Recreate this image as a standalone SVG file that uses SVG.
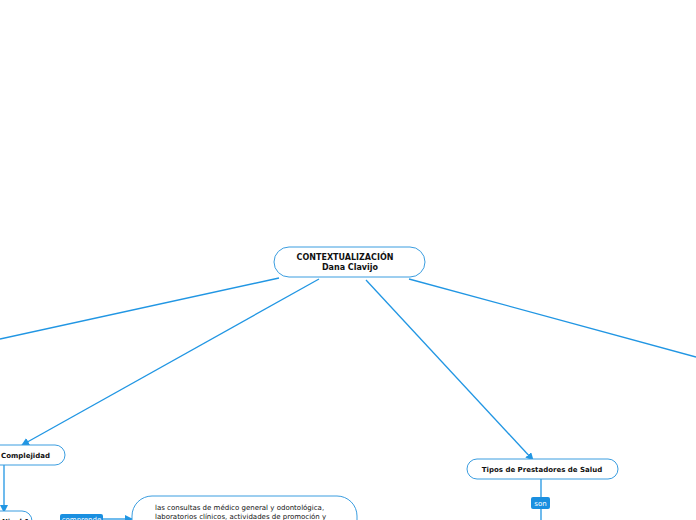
<svg xmlns="http://www.w3.org/2000/svg" width="696" height="520" viewBox="0 0 696 520">
<defs>
<style>
.node{fill:#fff;stroke:#3a9de0;stroke-width:1}
.line{stroke:#2196e3;stroke-width:1.3;fill:none}
.t{font-family:"DejaVu Sans",Verdana,sans-serif;font-size:7px;fill:#111}
.b{font-weight:bold}
.lab{fill:#1a8fe0}
.lt{font-family:"DejaVu Sans",Verdana,sans-serif;font-size:7px;fill:#fff}
</style>
<marker id="ah" markerWidth="8" markerHeight="8" refX="7" refY="4" orient="auto" markerUnits="userSpaceOnUse">
<path d="M0,0 L8,4 L0,8 Z" fill="#2196e3"/>
</marker>
</defs>
<rect width="696" height="520" fill="#fff"/>
<g id="connectors">
<line class="line" x1="279" y1="278" x2="0" y2="339"/>
<line class="line" x1="319" y1="279" x2="22" y2="445" marker-end="url(#ah)"/>
<line class="line" x1="366" y1="280" x2="533" y2="460" marker-end="url(#ah)"/>
<line class="line" x1="409" y1="279" x2="696" y2="357"/>
<line class="line" x1="4" y1="465" x2="4" y2="512" marker-end="url(#ah)"/>
<line class="line" x1="103" y1="519" x2="132" y2="519" marker-end="url(#ah)"/>
<line class="line" x1="541" y1="479" x2="541" y2="520"/>
</g>
<g id="root">
<rect class="node" x="274" y="247" width="151" height="30" rx="15"/>
<text class="t b" x="345" y="260" text-anchor="middle" style="font-size:8px">CONTEXTUALIZACIÓN</text>
<text class="t b" x="350" y="270" text-anchor="middle" style="font-size:8px">Dana Clavijo</text>
</g>
<g id="complejidad">
<rect class="node" x="-40" y="445" width="105" height="20" rx="10"/>
<text class="t b" x="1" y="458">Complejidad</text>
</g>
<g id="nivel1">
<rect class="node" x="-40" y="511" width="72" height="20" rx="10"/>
<text class="t b" x="2" y="524">Nivel 1</text>
</g>
<g id="label-comprende">
<rect class="lab" x="60" y="514" width="43" height="12" rx="2"/>
<text class="lt" x="81.5" y="522" text-anchor="middle">comprende</text>
</g>
<g id="consultas">
<rect class="node" x="132" y="496" width="225" height="50" rx="20"/>
<text class="t" x="155" y="510">las consultas de médico general y odontológica,</text>
<text class="t" x="155" y="519">laboratorios clínicos, actividades de promoción y</text>
</g>
<g id="tipos">
<rect class="node" x="467" y="459" width="151" height="20" rx="10"/>
<text class="t b" x="542" y="472" text-anchor="middle">Tipos de Prestadores de Salud</text>
</g>
<g id="label-son">
<rect class="lab" x="531" y="497" width="19" height="12" rx="2"/>
<text class="lt" x="540.5" y="505.5" text-anchor="middle">son</text>
</g>
</svg>
